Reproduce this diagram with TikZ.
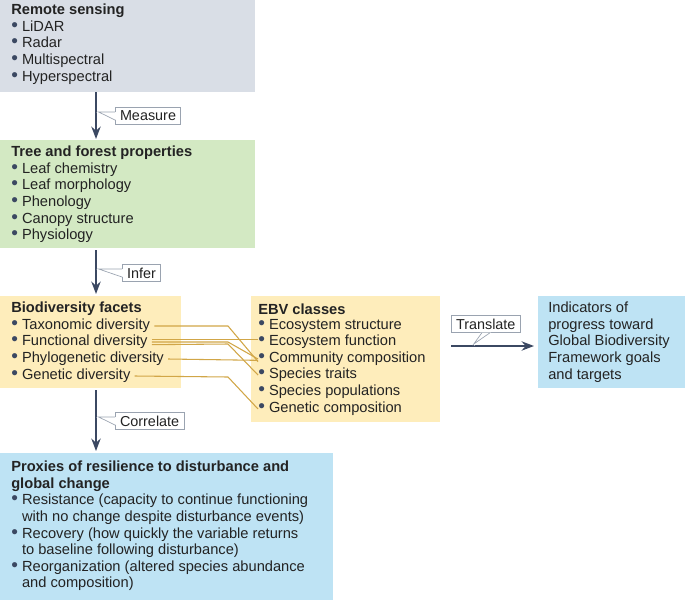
\documentclass[tikz,border=0pt]{standalone}
\usepackage{fontspec}
\setmainfont{Liberation Sans}
\usetikzlibrary{arrows.meta}
\definecolor{greybox}{HTML}{D9DEE6}
\definecolor{greenbox}{HTML}{D3E9C3}
\definecolor{yellowbox}{HTML}{FEEDBB}
\definecolor{bluebox}{HTML}{BEE3F4}
\definecolor{arrowcol}{HTML}{3B4862}
\definecolor{linkcol}{HTML}{D1A647}
\definecolor{tagcol}{HTML}{9AA3B0}
\definecolor{inkcol}{HTML}{232323}
\tikzset{>={Stealth[scale=1]},
  txt/.style={anchor=north west, inner sep=0pt, align=left, text=inkcol, font=\fontsize{11}{12.4}\selectfont},
  item/.style={anchor=west, inner sep=0pt, text=inkcol, font=\fontsize{11}{12}\selectfont},
  flow/.style={->, draw=arrowcol, line width=1.4pt},
  link/.style={draw=linkcol, line width=0.8pt},
  tag/.style={draw=tagcol, fill=white, line width=0.5pt, inner xsep=3.5pt, inner ysep=2.5pt, text=inkcol, font=\fontsize{10.8}{11}\selectfont}
}
\newcommand{\bul}{\textcolor{arrowcol}{\scalebox{1.3}{\textbullet}}\ }
\begin{document}
\begin{tikzpicture}[x=0.75pt, y=-0.75pt]
\useasboundingbox (0,0) rectangle (685,600);
% boxes
\fill[greybox] (0,0) rectangle (255,92);
\fill[greenbox] (0,140) rectangle (255,248);
\fill[yellowbox] (0,296) rectangle (181,388);
\fill[yellowbox] (251,296) rectangle (440,422);
\fill[bluebox] (538,296) rectangle (685,388);
\fill[bluebox] (0,453) rectangle (333,600);

\node[txt] (rs) at (11,4) {\textbf{Remote sensing}\\ \bul LiDAR\\ \bul Radar\\ \bul Multispectral\\ \bul Hyperspectral};
\node[txt] (tf) at (11,146) {\textbf{Tree and forest properties}\\ \bul Leaf chemistry\\ \bul Leaf morphology\\ \bul Phenology\\ \bul Canopy structure\\ \bul Physiology};
\node[txt] (ind) at (548,302) {Indicators of\\ progress toward\\ Global Biodiversity\\ Framework goals\\ and targets};
\node[txt] (px) at (11,461) {\textbf{Proxies of resilience to disturbance and}\\ \textbf{global change}\\ \bul Resistance (capacity to continue functioning\\ \hphantom{\bul}with no change despite disturbance events)\\ \bul Recovery (how quickly the variable returns\\ \hphantom{\bul}to baseline following disturbance)\\ \bul Reorganization (altered species abundance\\ \hphantom{\bul}and composition)};

% facets
\node[item] (bfh) at (11,309) {\textbf{Biodiversity facets}};
\node[item] (tax) at (11,326) {\bul Taxonomic diversity};
\node[item] (fun) at (11,342) {\bul Functional diversity};
\node[item] (phy) at (11,359) {\bul Phylogenetic diversity};
\node[item] (gen) at (11,376) {\bul Genetic diversity};
% EBV classes
\node[item] (ebh) at (258,309) {\textbf{EBV classes}};
\node[item] (es) at (258,326) {\bul Ecosystem structure};
\node[item] (ef) at (258,342) {\bul Ecosystem function};
\node[item] (cc) at (258,359) {\bul Community composition};
\node[item] (st) at (258,375) {\bul Species traits};
\node[item] (sp) at (258,392) {\bul Species populations};
\node[item] (gc) at (258,409) {\bul Genetic composition};

% links
\draw[link] ([xshift=3pt]tax.east) -- (228,326) -- ([yshift=-2pt]cc.west);
\draw[link] ([xshift=3pt,yshift=2pt]fun.east) -- ([yshift=2pt]ef.west);
\draw[link] ([xshift=3pt]fun.east) -- (228,342) -- (cc.west);
\draw[link] ([xshift=3pt,yshift=-2pt]fun.east) -- (228,344) -- (st.west);
\draw[link] ([xshift=3pt]phy.east) -- ([yshift=-1pt]cc.west);
\draw[link] ([xshift=3pt]gen.east) -- (228,377) -- (gc.west);

% flow arrows
\coordinate (a1) at (96,92); \coordinate (b1) at (96,139);
\coordinate (a2) at (96,250); \coordinate (b2) at (96,294);
\coordinate (a3) at (96,390); \coordinate (b3) at (96,451);
\coordinate (a4) at (451,346); \coordinate (b4) at (534,346);
\draw[flow] (a1) -- (b1);
\draw[flow] (a2) -- (b2);
\draw[flow] (a3) -- (b3);
\draw[flow] (a4) -- (b4);

% tags
\node[tag, anchor=west] (ms) at (115,116) {Measure};
\node[tag, anchor=west] (inf) at (122,273) {Infer};
\node[tag, anchor=west] (cor) at (115,421) {Correlate};
\node[tag, anchor=west] (tr) at (451,324) {Translate};
\foreach \t in {ms, inf, cor} {
  \fill[white] ([yshift=3pt,xshift=1pt]\t.west) -- ([yshift=3pt]\t.west -| a1) -- ([yshift=-3pt,xshift=1pt]\t.west) -- cycle;
  \draw[tagcol, line width=0.5pt] ([yshift=3pt]\t.west) -- ([yshift=3pt,xshift=2pt]\t.west -| a1) -- ([yshift=-3pt]\t.west);
}
\fill[white] ([xshift=-4pt,yshift=0.3pt]tr.south) -- ([xshift=-9pt]tr.south |- a4) -- ([xshift=4pt,yshift=0.3pt]tr.south) -- cycle;
\draw[tagcol, line width=0.5pt] ([xshift=-3pt]tr.south) -- ([xshift=-9pt,yshift=1.5pt]tr.south |- a4) -- ([xshift=3pt]tr.south);
\end{tikzpicture}
\end{document}
